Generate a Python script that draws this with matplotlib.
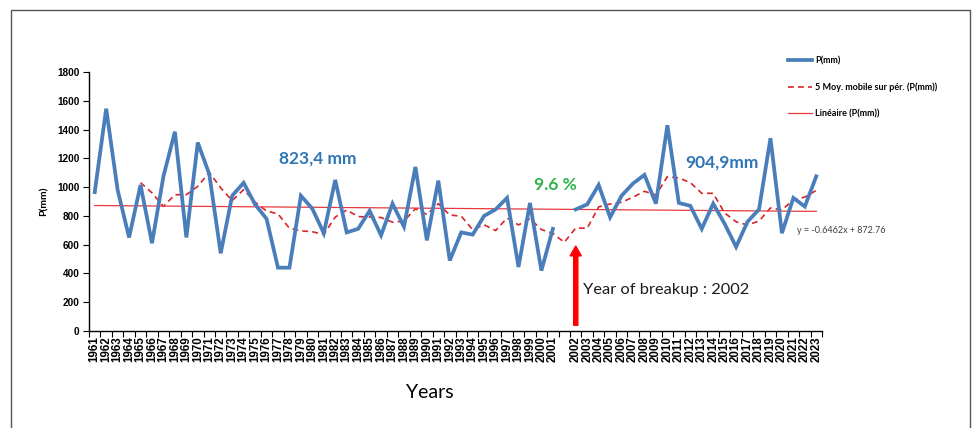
import matplotlib.pyplot as plt
import numpy as np
import pandas as pd
from matplotlib.patches import Rectangle
from matplotlib.lines import Line2D

# annual rainfall, P(mm)
years_before = list(range(1961, 2002))
p_before = [965, 1545, 980, 650, 1015, 610, 1075, 1385, 650, 1310,
            1090, 540, 940, 1030, 880, 780, 440, 440, 940, 850,
            680, 1050, 685, 710, 835, 665, 885, 725, 1140, 630,
            1045, 490, 685, 670, 800, 845, 925, 445, 890, 420, 710]
years_after = list(range(2002, 2024))
p_after = [845, 880, 1015, 790, 940, 1025, 1085, 885, 1430, 890,
           870, 710, 885, 745, 585, 760, 845, 1340, 680, 925, 865, 1075]

# trend line shown on the chart: y = -0.6462x + 872.76
slope = -0.6462
intercept = 872.76

labels = [str(y) for y in years_before] + [''] + [str(y) for y in years_after]
p = np.array(p_before + [np.nan] + p_after, dtype=float)
idx = np.arange(len(p))

# 5-period moving average (blank cell skipped, like Excel)
mavg = pd.Series(p).rolling(5, min_periods=1).mean().values
mavg[:4] = np.nan
trend = slope * (idx + 1) + intercept

fig = plt.figure(figsize=(9.76, 4.28), dpi=100)
ax = fig.add_axes([89/976, 1-331/428, 733/976, 259/428])

ax.plot(idx, p, color='#4A7EBB', lw=2.7, solid_joinstyle='miter', label='P(mm)', zorder=3)
ax.plot(idx, mavg, color='#D9232A', lw=1.2, ls=(0, (3.5, 2.5)),
        label='5 Moy. mobile sur pér. (P(mm))', zorder=2)
ax.plot(idx, trend, color='#E8383D', lw=0.9, label='Linéaire (P(mm))', zorder=2)

ax.set_xlim(-0.5, len(p) - 0.5)
ax.set_ylim(0, 1800)
ax.set_yticks(np.arange(0, 1801, 200))
ax.set_xticks(idx)
ax.set_xticklabels(labels, rotation=90, fontsize=8.3, fontweight='bold',
                   family='Liberation Sans')
ax.set_xticks(np.arange(-0.5, len(p), 1), minor=True)
ax.tick_params(axis='x', which='major', length=0, pad=4)
ax.tick_params(axis='x', which='minor', length=4, width=0.8, direction='out')
ax.tick_params(axis='y', length=4, width=0.8, direction='out', pad=3)
for t in ax.get_yticklabels():
    t.set_fontsize(7.2)
    t.set_fontweight('bold')
    t.set_family('Liberation Sans')
for s in ['top', 'right']:
    ax.spines[s].set_visible(False)
for s in ['left', 'bottom']:
    ax.spines[s].set_linewidth(1.0)

ax.set_ylabel('P(mm)', fontsize=7.5, fontweight='bold', family='Lato', labelpad=6)
fig.text(430/976, 1-393/428, 'Years', fontsize=14, family='Lato', ha='center', va='center')

# annotations
ax.text(19.5, 1202, '823,4 mm', color='#2E75B6', fontsize=12.5, fontweight='bold',
        family='Lato', ha='center', va='center')
ax.text(40.2, 1015, '9.6 %', color='#2DB34A', fontsize=12.5, fontweight='bold',
        family='Lato', ha='center', va='center')
ax.text(54.8, 1168, '904,9mm', color='#2E75B6', fontsize=12.5, fontweight='bold',
        family='Lato', ha='center', va='center')
ax.text(61.3, 695, 'y = -0.6462x + 872.76', color='#404040', fontsize=6.5,
        family='Lato', ha='left', va='center')
ax.annotate('', xy=(42, 590), xytext=(42, 40),
            arrowprops=dict(facecolor='#FF0000', edgecolor='#FF0000',
                            width=3, headwidth=8, headlength=7))
ax.text(42.6, 285, 'Year of breakup : 2002', fontsize=11.8, family='Lato',
        ha='left', va='center', color='#1a1a1a')

handles = [Line2D([], [], color='#4A7EBB', lw=2.7),
           Line2D([], [], color='#D9232A', lw=1.2, ls=(0, (3.5, 2.5))),
           Line2D([], [], color='#E8383D', lw=0.9)]
fig.legend(handles, ['P(mm)', '5 Moy. mobile sur pér. (P(mm))', 'Linéaire (P(mm))'],
           loc='upper left', bbox_to_anchor=(780/976, 1-48/428), frameon=False,
           prop={'family': 'Lato', 'size': 6.5, 'weight': 'bold'},
           handlelength=2.6, handletextpad=0.4, labelspacing=1.9)

# outer chart border
fig.patches.append(Rectangle((11/976, -0.05), 959/976, 1.05 - 10/428,
                             transform=fig.transFigure, fill=False,
                             edgecolor='#555555', lw=1.0))

fig.savefig('out.png', dpi=100)
